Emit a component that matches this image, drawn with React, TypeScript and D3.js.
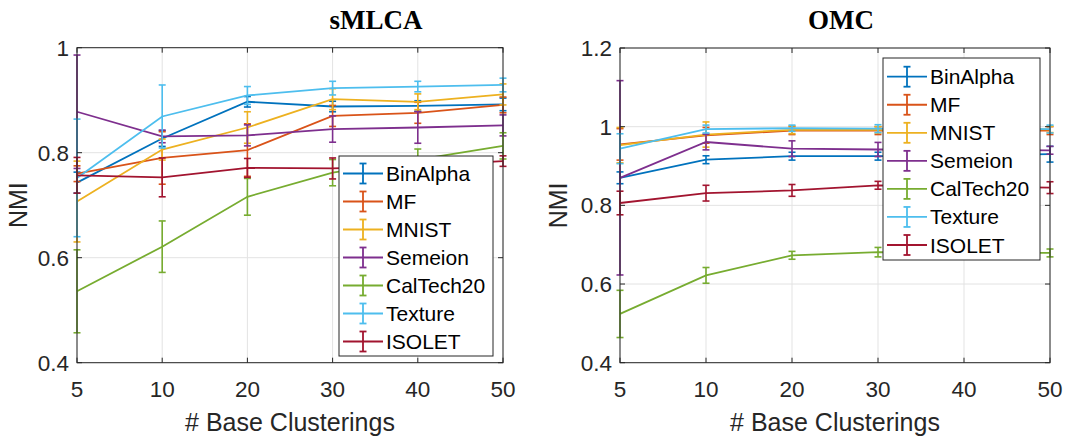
import React from "react";
import * as d3 from "d3";

const xLabels = ["5", "10", "20", "30", "40", "50"];
const seriesNames = ["BinAlpha", "MF", "MNIST", "Semeion", "CalTech20", "Texture", "ISOLET"];
const seriesColors = ["#0072BD", "#D95319", "#EDB120", "#7E2F8E", "#77AC30", "#4DBEEE", "#A2142F"];

// sMLCA (left panel): means and error half-widths
const smlcaBinAlpha = [0.743, 0.827, 0.897, 0.888, 0.889, 0.892];
const smlcaBinAlphaErr = [0.02, 0.015, 0.01, 0.01, 0.01, 0.012];
const smlcaMF = [0.76, 0.79, 0.805, 0.87, 0.876, 0.891];
const smlcaMFErr = [0.015, 0.05, 0.05, 0.02, 0.02, 0.015];
const smlcaMNIST = [0.707, 0.806, 0.848, 0.902, 0.897, 0.911];
const smlcaMNISTErr = [0.077, 0.02, 0.03, 0.02, 0.015, 0.02];
const smlcaSemeion = [0.878, 0.831, 0.833, 0.845, 0.848, 0.852];
const smlcaSemeionErr = [0.108, 0.012, 0.02, 0.025, 0.03, 0.02];
const smlcaCalTech20 = [0.536, 0.621, 0.716, 0.762, 0.787, 0.813];
const smlcaCalTech20Err = [0.079, 0.049, 0.035, 0.025, 0.02, 0.025];
const smlcaTexture = [0.752, 0.869, 0.909, 0.923, 0.926, 0.929];
const smlcaTextureErr = [0.112, 0.06, 0.017, 0.013, 0.01, 0.013];
const smlcaISOLET = [0.757, 0.753, 0.771, 0.77, 0.775, 0.784];
const smlcaISOLETErr = [0.034, 0.037, 0.018, 0.02, 0.015, 0.01];

// OMC (right panel)
const omcBinAlpha = [0.87, 0.916, 0.925, 0.925, 0.927, 0.93];
const omcBinAlphaErr = [0.015, 0.01, 0.01, 0.01, 0.01, 0.02];
const omcMF = [0.955, 0.978, 0.99, 0.99, 0.99, 0.99];
const omcMFErr = [0.04, 0.02, 0.01, 0.01, 0.01, 0.01];
const omcMNIST = [0.953, 0.98, 0.992, 0.992, 0.993, 0.993];
const omcMNISTErr = [0.045, 0.032, 0.01, 0.008, 0.008, 0.008];
const omcSemeion = [0.87, 0.961, 0.944, 0.942, 0.941, 0.94];
const omcSemeionErr = [0.247, 0.02, 0.02, 0.018, 0.015, 0.01];
const omcCalTech20 = [0.524, 0.622, 0.673, 0.681, 0.68, 0.679];
const omcCalTech20Err = [0.06, 0.02, 0.01, 0.012, 0.01, 0.01];
const omcTexture = [0.944, 0.994, 0.996, 0.995, 0.995, 0.994];
const omcTextureErr = [0.038, 0.01, 0.008, 0.01, 0.01, 0.01];
const omcISOLET = [0.806, 0.831, 0.838, 0.851, 0.848, 0.845];
const omcISOLETErr = [0.03, 0.02, 0.015, 0.01, 0.012, 0.015];

const smlcaMeans = [smlcaBinAlpha, smlcaMF, smlcaMNIST, smlcaSemeion, smlcaCalTech20, smlcaTexture, smlcaISOLET];
const smlcaErrs = [smlcaBinAlphaErr, smlcaMFErr, smlcaMNISTErr, smlcaSemeionErr, smlcaCalTech20Err, smlcaTextureErr, smlcaISOLETErr];
const omcMeans = [omcBinAlpha, omcMF, omcMNIST, omcSemeion, omcCalTech20, omcTexture, omcISOLET];
const omcErrs = [omcBinAlphaErr, omcMFErr, omcMNISTErr, omcSemeionErr, omcCalTech20Err, omcTextureErr, omcISOLETErr];

const smlcaYTicks = [0.4, 0.6, 0.8, 1];
const omcYTicks = [0.4, 0.6, 0.8, 1, 1.2];

const AX = "#262626";
const GRID = "#e3e3e3";
const SANS = "'Liberation Sans', Arial, Helvetica, sans-serif";
const SERIF = "'Liberation Serif', 'Times New Roman', serif";

type PanelProps = {
  title: string;
  titleX: number;
  x0: number;
  x1: number;
  y0: number;
  y1: number;
  yDomain: [number, number];
  yTicks: number[];
  means: number[][];
  errs: number[][];
  legend: { x: number; y: number; w: number; h: number; row0: number; step: number };
  ylabelX: number;
};

function Panel(p: PanelProps) {
  const x = d3.scalePoint<string>().domain(xLabels).range([p.x0, p.x1]);
  const y = d3.scaleLinear().domain(p.yDomain).range([p.y1, p.y0]);
  const line = d3
    .line<number>()
    .x((_, i) => x(xLabels[i]) as number)
    .y((d) => y(d));
  const cap = 3.5;
  const tick = 5;
  return (
    <g>
      <text x={p.titleX} y={29} textAnchor="middle" fontFamily={SERIF} fontWeight="bold" fontSize={27} fill="#000">
        {p.title}
      </text>
      {/* grid */}
      {xLabels.map((l) => (
        <line key={"gx" + l} x1={x(l)} x2={x(l)} y1={p.y0} y2={p.y1} stroke={GRID} strokeWidth={1} />
      ))}
      {p.yTicks.map((t) => (
        <line key={"gy" + t} x1={p.x0} x2={p.x1} y1={y(t)} y2={y(t)} stroke={GRID} strokeWidth={1} />
      ))}
      {/* series */}
      {p.means.map((m, si) => (
        <g key={"s" + si} stroke={seriesColors[si]} fill="none" strokeWidth={1.8}>
          <path d={line(m) as string} />
          {m.map((v, i) => {
            const cx = x(xLabels[i]) as number;
            const e = p.errs[si][i];
            const yt = y(v + e);
            const yb = y(v - e);
            return (
              <g key={i} strokeWidth={1.6}>
                <line x1={cx} x2={cx} y1={yt} y2={yb} />
                <line x1={cx - cap} x2={cx + cap} y1={yt} y2={yt} />
                <line x1={cx - cap} x2={cx + cap} y1={yb} y2={yb} />
              </g>
            );
          })}
        </g>
      ))}
      {/* axes box */}
      <rect x={p.x0} y={p.y0} width={p.x1 - p.x0} height={p.y1 - p.y0} fill="none" stroke={AX} strokeWidth={1} />
      {xLabels.map((l) => (
        <g key={"tx" + l}>
          <line x1={x(l)} x2={x(l)} y1={p.y1} y2={p.y1 - tick} stroke={AX} />
          <line x1={x(l)} x2={x(l)} y1={p.y0} y2={p.y0 + tick} stroke={AX} />
          <text x={x(l)} y={p.y1 + 34} textAnchor="middle" fontFamily={SANS} fontSize={22.5} fill={AX}>
            {l}
          </text>
        </g>
      ))}
      {p.yTicks.map((t) => (
        <g key={"ty" + t}>
          <line x1={p.x0} x2={p.x0 + tick} y1={y(t)} y2={y(t)} stroke={AX} />
          <line x1={p.x1} x2={p.x1 - tick} y1={y(t)} y2={y(t)} stroke={AX} />
          <text x={p.x0 - 8} y={y(t) + 8} textAnchor="end" fontFamily={SANS} fontSize={22.5} fill={AX}>
            {String(t)}
          </text>
        </g>
      ))}
      <text x={(p.x0 + p.x1) / 2} y={431} textAnchor="middle" fontFamily={SANS} fontSize={25} fill={AX}>
        # Base Clusterings
      </text>
      <text
        transform={`translate(${p.ylabelX},${(p.y0 + p.y1) / 2}) rotate(-90)`}
        textAnchor="middle"
        fontFamily={SANS}
        fontSize={25}
        fill={AX}
      >
        NMI
      </text>
      {/* legend */}
      <rect x={p.legend.x} y={p.legend.y} width={p.legend.w} height={p.legend.h} fill="#fff" stroke={AX} strokeWidth={1} />
      {seriesNames.map((n, i) => {
        const ry = p.legend.row0 + i * p.legend.step;
        const lx = p.legend.x + 4;
        const mx = lx + 20;
        return (
          <g key={"lg" + n}>
            <g stroke={seriesColors[i]} strokeWidth={1.8}>
              <line x1={lx} x2={lx + 40} y1={ry} y2={ry} />
              <line x1={mx} x2={mx} y1={ry - 10} y2={ry + 10} />
              <line x1={mx - cap} x2={mx + cap} y1={ry - 10} y2={ry - 10} />
              <line x1={mx - cap} x2={mx + cap} y1={ry + 10} y2={ry + 10} />
            </g>
            <text x={lx + 43} y={ry + 7.5} fontFamily={SANS} fontSize={21} fill="#000">
              {n}
            </text>
          </g>
        );
      })}
    </g>
  );
}

export default function App() {
  return (
    <svg
      width={1075}
      height={437}
      viewBox="0 0 1075 437"
      style={{ position: "absolute", left: 0, top: 0, background: "#fff" }}
    >
      <rect width={1075} height={437} fill="#fff" />
      <Panel
        title="sMLCA"
        titleX={376}
        x0={77}
        x1={503}
        y0={47.7}
        y1={362.7}
        yDomain={[0.4, 1]}
        yTicks={smlcaYTicks}
        means={smlcaMeans}
        errs={smlcaErrs}
        legend={{ x: 339, y: 156, w: 154, h: 200, row0: 173.5, step: 28 }}
        ylabelX={27}
      />
      <Panel
        title="OMC"
        titleX={841}
        x0={620}
        x1={1050}
        y0={48}
        y1={362.7}
        yDomain={[0.4, 1.2]}
        yTicks={omcYTicks}
        means={omcMeans}
        errs={omcErrs}
        legend={{ x: 883, y: 58, w: 157, h: 202, row0: 76.7, step: 28.05 }}
        ylabelX={567}
      />
    </svg>
  );
}
